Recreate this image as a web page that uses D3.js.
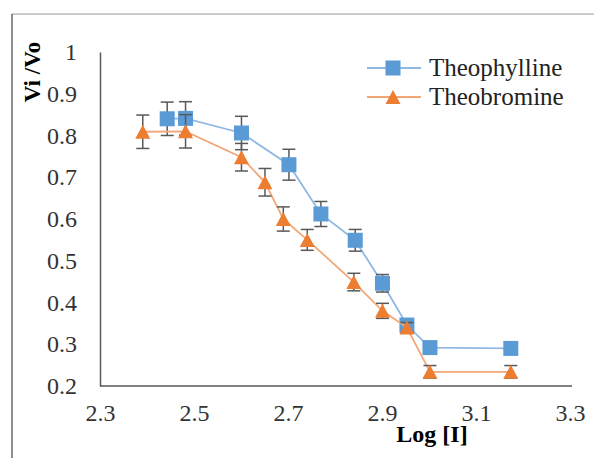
<!DOCTYPE html>
<html>
<head>
<meta charset="utf-8">
<script src="https://cdn.jsdelivr.net/npm/d3@7"></script>
<style>
  body { margin: 0; background: #fff; }
</style>
</head>
<body>
<svg id="chart" width="594" height="458"></svg>
<script>
// data
const theophyllineX = [2.443, 2.482, 2.601, 2.702, 2.770, 2.843, 2.901, 2.953, 3.002, 3.174];
const theophyllineY = [0.840, 0.841, 0.806, 0.730, 0.612, 0.549, 0.446, 0.346, 0.292, 0.290];
const theophyllineErr = [0.040, 0.040, 0.040, 0.037, 0.030, 0.026, 0.021, 0.012, 0.006, 0.006];

const theobromineX = [2.391, 2.482, 2.601, 2.651, 2.690, 2.741, 2.840, 2.901, 2.953, 3.002, 3.174];
const theobromineY = [0.809, 0.810, 0.748, 0.688, 0.600, 0.550, 0.449, 0.380, 0.340, 0.234, 0.234];
const theobromineErr = [0.040, 0.040, 0.033, 0.033, 0.029, 0.025, 0.021, 0.018, 0.012, 0.015, 0.015];

const xTicks = [2.3, 2.5, 2.7, 2.9, 3.1, 3.3];
const yTicks = [0.2, 0.3, 0.4, 0.5, 0.6, 0.7, 0.8, 0.9, 1];

const FONT = "Liberation Serif";

const series = [
  { name: "Theophylline", x: theophyllineX, y: theophyllineY, err: theophyllineErr,
    color: "#5b9bd5", line: "#8fb8e4", shape: "square" },
  { name: "Theobromine", x: theobromineX, y: theobromineY, err: theobromineErr,
    color: "#ed7d31", line: "#f2a779", shape: "triangle" }
];

const svg = d3.select("#chart");

// outer frame (only top and left visible in the crop)
svg.append("line").attr("x1", 12).attr("y1", 14).attr("x2", 594).attr("y2", 14)
  .attr("stroke", "#999").attr("stroke-width", 1.2);
svg.append("line").attr("x1", 12).attr("y1", 14).attr("x2", 12).attr("y2", 458)
  .attr("stroke", "#444").attr("stroke-width", 1.2);

const x = d3.scaleLinear().domain([2.3, 3.3]).range([100, 570]);
const y = d3.scaleLinear().domain([0.2, 1]).range([386, 52]);

// axes
svg.append("g")
  .attr("transform", "translate(0,386)")
  .call(d3.axisBottom(x).tickValues(xTicks).tickSize(0).tickPadding(18).tickFormat(d3.format(".1f")))
  .attr("font-family", FONT)
  .call(g => g.select(".domain").attr("stroke", "#595959").attr("stroke-width", 1.5).attr("d", "M100,0H572"))
  .selectAll("text")
  .attr("font-family", FONT).attr("font-size", 24).attr("fill", "#333");

svg.append("g")
  .attr("transform", "translate(100,0)")
  .call(d3.axisLeft(y).tickValues(yTicks).tickSize(0).tickPadding(23).tickFormat(d => d == 1 ? "1" : d3.format(".1f")(d)))
  .attr("font-family", FONT)
  .call(g => g.select(".domain").attr("stroke", "#595959").attr("stroke-width", 1.5))
  .selectAll("text")
  .attr("font-family", FONT).attr("font-size", 24).attr("fill", "#333");

// axis titles
svg.append("text")
  .attr("x", 432).attr("y", 442)
  .attr("text-anchor", "middle")
  .attr("font-family", FONT).attr("font-size", 24).attr("font-weight", "bold")
  .text("Log [I]");

svg.append("text")
  .attr("transform", "translate(40,72) rotate(-90)")
  .attr("text-anchor", "middle")
  .attr("font-family", FONT).attr("font-size", 23).attr("font-weight", "bold")
  .text("Vi /Vo");

function marker(sel, shape, color) {
  if (shape == "square") {
    sel.append("rect").attr("x", -7.5).attr("y", -7.5).attr("width", 15).attr("height", 15)
      .attr("fill", color);
  } else {
    sel.append("path").attr("d", "M0,-7L7.5,7L-7.5,7Z").attr("fill", color);
  }
}

series.forEach(s => {
  const pts = s.x.map((v, i) => ({ x: v, y: s.y[i], e: s.err[i] }));
  const g = svg.append("g");

  g.append("path")
    .datum(pts)
    .attr("fill", "none")
    .attr("stroke", s.line)
    .attr("stroke-width", 1.8)
    .attr("d", d3.line().x(d => x(d.x)).y(d => y(d.y)));

  // error bars
  const eb = g.selectAll(".err").data(pts).enter().append("g")
    .attr("stroke", "#595959").attr("stroke-width", 1.5);
  eb.append("line")
    .attr("x1", d => x(d.x)).attr("x2", d => x(d.x))
    .attr("y1", d => y(d.y + d.e)).attr("y2", d => y(d.y - d.e));
  eb.append("line")
    .attr("x1", d => x(d.x) - 6.5).attr("x2", d => x(d.x) + 6.5)
    .attr("y1", d => y(d.y + d.e)).attr("y2", d => y(d.y + d.e));
  eb.append("line")
    .attr("x1", d => x(d.x) - 6.5).attr("x2", d => x(d.x) + 6.5)
    .attr("y1", d => y(d.y - d.e)).attr("y2", d => y(d.y - d.e));

  g.selectAll(".mk").data(pts).enter().append("g")
    .attr("transform", d => "translate(" + x(d.x) + "," + y(d.y) + ")")
    .each(function () { marker(d3.select(this), s.shape, s.color); });
});

// legend
const legend = svg.append("g");
series.forEach((s, i) => {
  const ly = 68 + i * 29;
  legend.append("line").attr("x1", 367).attr("x2", 421).attr("y1", ly).attr("y2", ly)
    .attr("stroke", s.line).attr("stroke-width", 1.8);
  const m = legend.append("g").attr("transform", "translate(393," + ly + ")");
  marker(m, s.shape, s.color);
  legend.append("text")
    .attr("x", 429).attr("y", ly + 8)
    .attr("font-family", FONT).attr("font-size", 25).attr("fill", "#222")
    .text(s.name);
});
</script>
</body>
</html>
